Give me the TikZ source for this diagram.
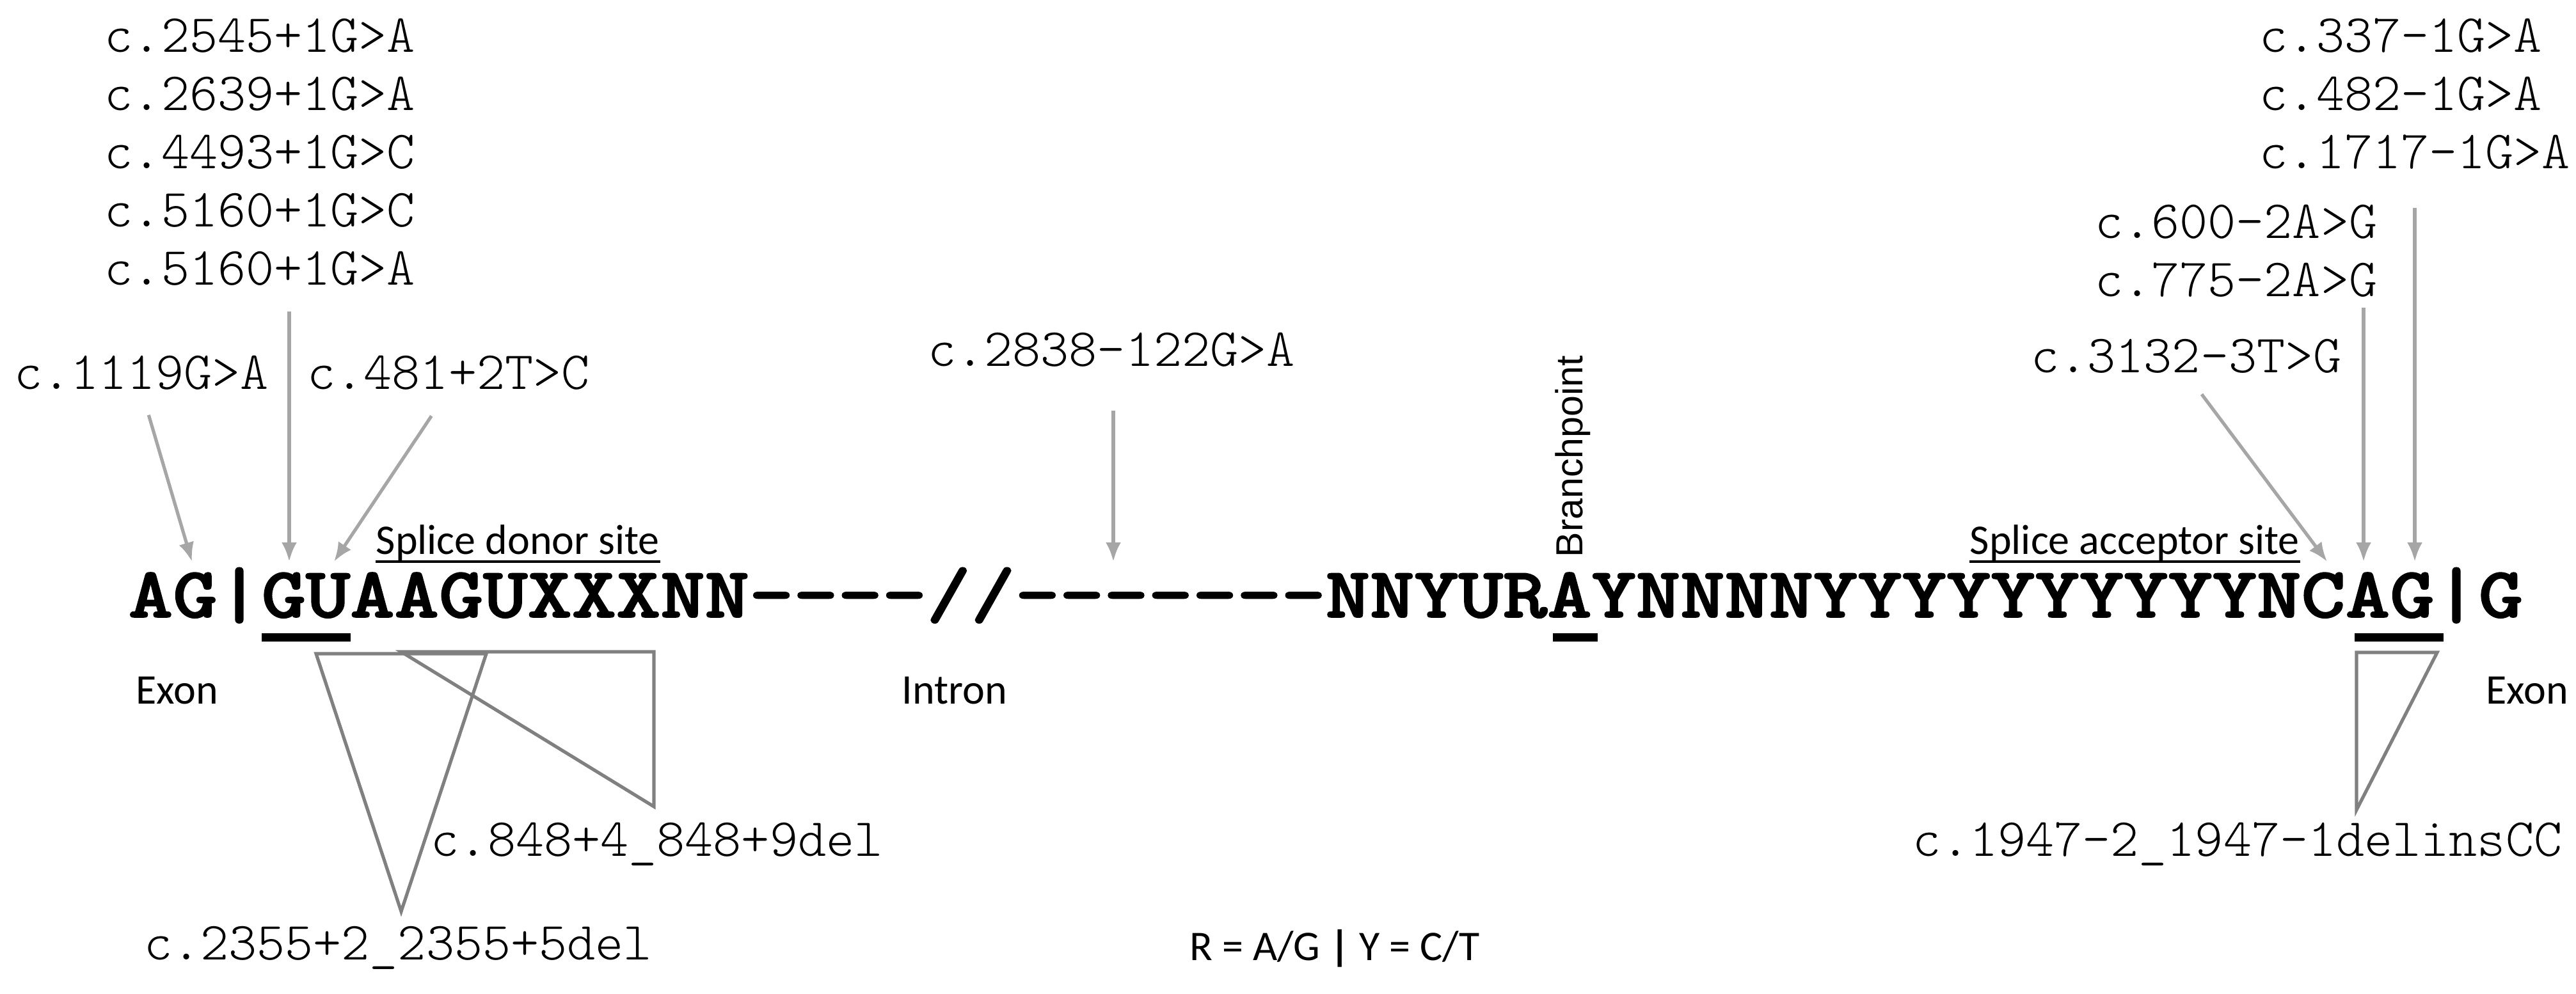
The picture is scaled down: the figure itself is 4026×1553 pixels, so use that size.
\documentclass[tikz,border=0pt]{standalone}
\usepackage{graphicx}
\usepackage{fontspec}
\usepackage{tikz}
\usetikzlibrary{arrows.meta,positioning}
\newfontfamily\calfont{Carlito}
\newfontfamily\arialfont{Liberation Sans}
\newfontfamily\seqfont{lmmonolt10-bold.otf}[FakeBold=1.6]
\newfontfamily\varfont{lmmonolt10-regular.otf}
\definecolor{HitGray}{HTML}{A6A6A6}
\definecolor{DelGray}{HTML}{808080}
\tikzset{
  seq/.style={inner sep=0pt,font=\fontsize{33}{33}\selectfont\seqfont},
  variant/.style={inner sep=0pt,font=\fontsize{21}{22.75}\selectfont\varfont},
  region/.style={inner sep=0pt,font=\fontsize{16.5}{18}\selectfont\calfont},
  hit/.style={-{Latex[length=7.5pt,width=6pt]},line width=1.3pt,draw=HitGray},
  deletion/.style={draw=DelGray,line width=1.3pt,line join=miter},
  site/.style={fill=black}
}

\begin{document}
\begin{tikzpicture}[x=0.25pt,y=-0.25pt]
  \useasboundingbox (0,0) rectangle (4026,1553);
  % consensus sequence
  \node[seq,anchor=base west] (seqline) at (200,965)
    {\scalebox{1}[0.85]{AG|GUAAGUXXXNN-{}-{}-{}-//-{}-{}-{}-{}-{}-{}-NNYURAYNNNNYYYYYYYYYYNCAG|G}};
  \fill[site] (409,990) rectangle (548,1003);
  \fill[site] (2427,990) rectangle (2497,1003);
  \fill[site] (3680,990) rectangle (3819,1003);
  % targets on the sequence
  \coordinate (tG1) at (300,878);
  \coordinate (tG3) at (452,878);
  \coordinate (tU4) at (522,878);
  \coordinate (tint) at (1740,878);
  \coordinate (tC49) at (3637,878);
  \coordinate (tA50) at (3694,878);
  \coordinate (tG51) at (3774,878);
  % region labels
  \node[region,anchor=base west] (donor) at (587,866) {Splice donor site};
  \node[region,anchor=base west] (acceptor) at (3078,866) {Splice acceptor site};
  \draw[line width=1.2pt] ([yshift=-3pt]donor.base west) -- ([yshift=-3pt]donor.base east);
  \draw[line width=1.2pt] ([yshift=-3pt]acceptor.base west) -- ([yshift=-3pt]acceptor.base east);
  \node[inner sep=0pt,font=\fontsize{14.75}{16}\selectfont\arialfont,rotate=90,anchor=base west] (branch) at (2473,872) {Branchpoint};
  \node[region] (exonL) at (277,1080) {Exon};
  \node[region] (intron) at (1492,1080) {Intron};
  \node[region] (exonR) at (3950,1080) {Exon};
  \node[region] (legend) at (2086,1483) {R = A/G \textbf{|} Y = C/T};
  % point variants
  \node[variant,align=left,anchor=north west] (donorset) at (163,28)
    {c.2545+1G>A\\c.2639+1G>A\\c.4493+1G>C\\c.5160+1G>C\\c.5160+1G>A};
  \node[variant] (v1119) at (221,583) {c.1119G>A};
  \node[variant] (v481) at (701,583) {c.481+2T>C};
  \node[variant] (v2838) at (1737,547) {c.2838-122G>A};
  \node[variant,align=left,anchor=north west] (accset) at (3531,28)
    {c.337-1G>A\\c.482-1G>A\\c.1717-1G>A};
  \node[variant,align=right,anchor=north east] (accset2) at (3716,319)
    {c.600-2A>G\\c.775-2A>G};
  \node[variant] (v3132) at (3417,557) {c.3132-3T>G};
  \draw[hit,shorten <=10pt] (v1119.south) -- (tG1);
  \draw[hit,shorten <=10pt] (donorset.south -| tG3) -- (tG3);
  \draw[hit,shorten <=12pt] (v481.south) -- (tU4);
  \draw[hit,shorten <=17pt] (v2838.south -| tint) -- (tint);
  \draw[hit,shorten <=10pt] (v3132.south) -- (tC49);
  \draw[hit,shorten <=4pt] (accset2.south -| tA50) -- (tA50);
  \draw[hit,shorten <=15pt] (accset.south -| tG51) -- (tG51);
  % deletions
  \draw[deletion] (494,1022) -- (760,1022) -- (627,1425) -- cycle;
  \draw[deletion] (627,1019) -- (1022,1019) -- (1022,1261) -- cycle;
  \draw[deletion] (3683,1020) -- (3809,1020) -- (3683,1266) -- cycle;
  \node[variant,anchor=west] (v848) at (673,1320) {c.848+4\_848+9del};
  \node[variant] (v2355) at (622,1482) {c.2355+2\_2355+5del};
  \node[variant,anchor=east] (v1947) at (4005,1320) {c.1947-2\_1947-1delinsCC};
\end{tikzpicture}
\end{document}
